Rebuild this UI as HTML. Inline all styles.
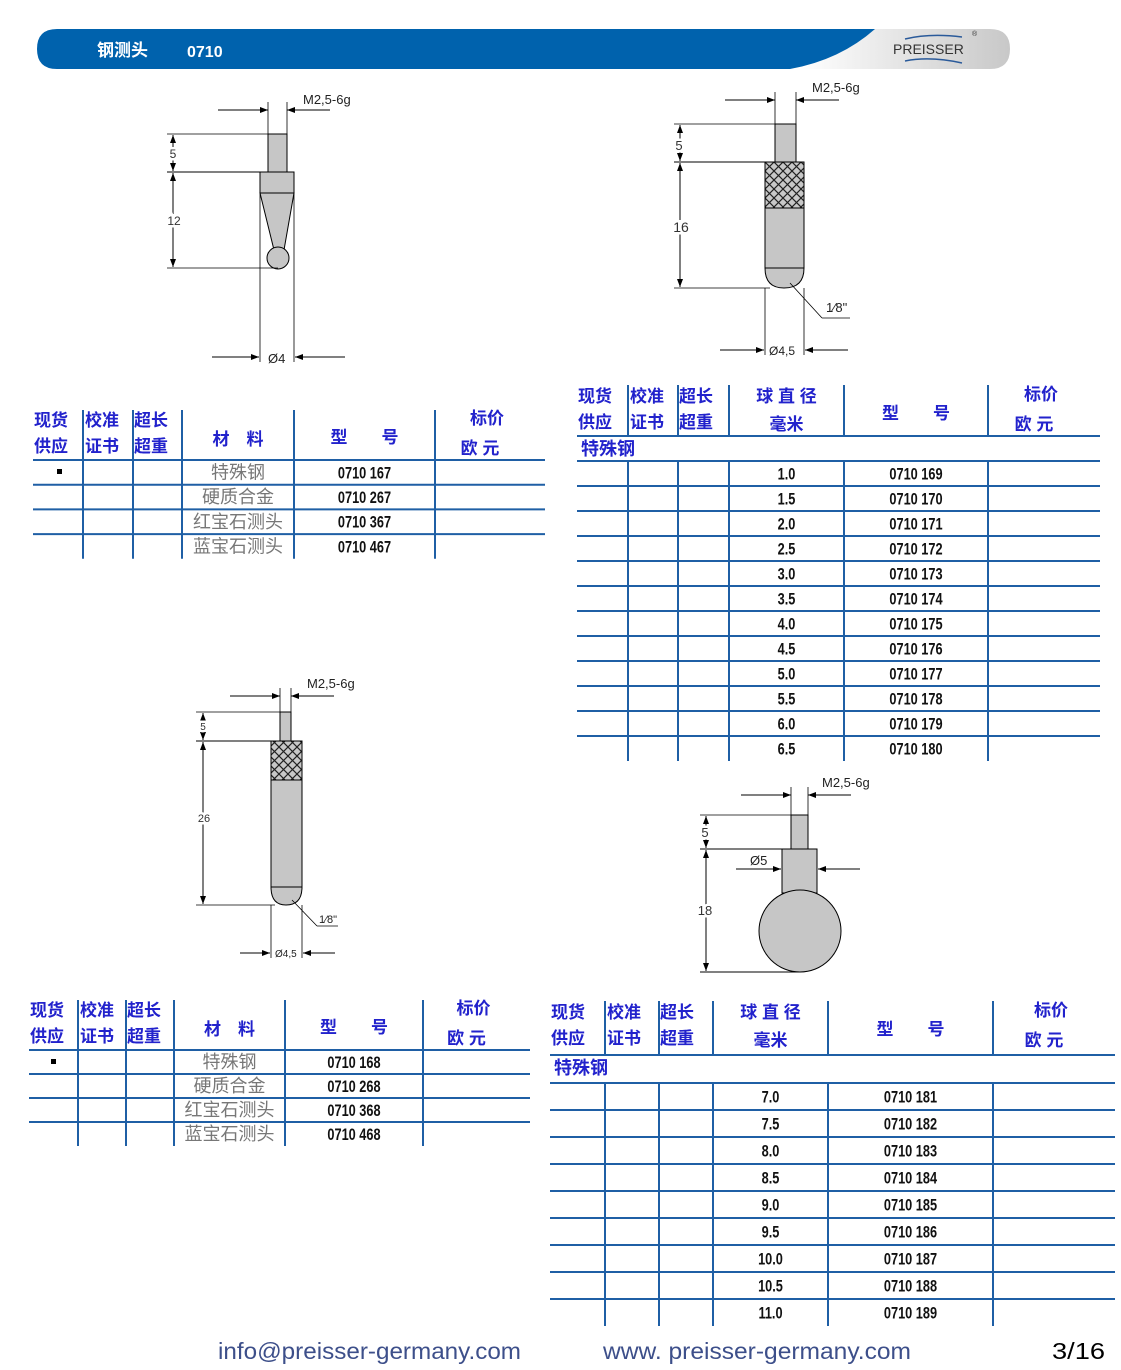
<!DOCTYPE html>
<html><head><meta charset="utf-8"><style>
html,body{margin:0;padding:0;background:#fff;}
svg{display:block;}
</style></head><body>
<svg id="s" width="1121" height="1370" xmlns="http://www.w3.org/2000/svg" font-family="Liberation Sans, 'Noto Sans CJK SC', sans-serif">
<defs>
<linearGradient id="gg" x1="0" x2="1" y1="0" y2="0"><stop offset="0" stop-color="#ffffff"/><stop offset="1" stop-color="#c8c8c8"/></linearGradient>
<pattern id="kn" width="9" height="9" patternUnits="userSpaceOnUse"><rect width="9" height="9" fill="#c8c8c8"/><path d="M0 0L9 9M9 0L0 9" stroke="#222" stroke-width="1.2"/></pattern>
<marker id="ar" markerWidth="8" markerHeight="6" refX="8" refY="3" orient="auto" markerUnits="userSpaceOnUse"><path d="M0 0L8 3L0 6z" fill="#000"/></marker>
</defs>
<!-- header -->
<path d="M870 29 H990 Q1010 29 1010 49 Q1010 69 990 69 H800 Q850 50 870 29Z" fill="url(#gg)"/>
<path d="M57 29 H875 Q840 60 790 69 H57 Q37 69 37 49 Q37 29 57 29Z" fill="#0062ad"/>
<text x="97" y="56" font-size="17" font-weight="bold" fill="#fff">钢测头</text>
<text x="187" y="57" font-size="16" font-weight="bold" fill="#fff">0710</text>
<text x="893" y="54" font-size="14" fill="#333">PREISSER</text>
<path d="M905 39 Q930 33 962 37" stroke="#2a5a9a" stroke-width="1.5" fill="none"/>
<path d="M905 61 Q930 56 962 63" stroke="#2a5a9a" stroke-width="1.5" fill="none"/>
<text x="972" y="36" font-size="7" fill="#333">®</text>
<g id="g"></g>
<!-- footer -->
<text x="218" y="1359" font-size="23" fill="#3d4f8a" textLength="303" lengthAdjust="spacingAndGlyphs">info@preisser-germany.com</text>
<text x="603" y="1359" font-size="23" fill="#3d4f8a" textLength="308" lengthAdjust="spacingAndGlyphs">www. preisser-germany.com</text>
<text x="1052" y="1359" font-size="23" fill="#000" textLength="53" lengthAdjust="spacingAndGlyphs">3/16</text>
</svg>
<script>
var g=document.getElementById('g'),h='';
function L(x1,y1,x2,y2,c,w,m){h+='<line x1="'+x1+'" y1="'+y1+'" x2="'+x2+'" y2="'+y2+'" stroke="'+(c||'#000')+'" stroke-width="'+(w||1)+'"'+(m?' marker-end="url(#ar)"':'')+'/>';}
function T(x,y,s,sz,c,extra){h+='<text x="'+x+'" y="'+y+'" font-size="'+sz+'" fill="'+c+'" '+(extra||'')+'>'+s+'</text>';}
function R(x,y,w,hh,f){h+='<rect x="'+x+'" y="'+y+'" width="'+w+'" height="'+hh+'" fill="'+f+'" stroke="#000" stroke-width="1"/>';}
function LB(x,y,s,sz){h+='<text x="'+x+'" y="'+y+'" font-size="'+sz+'" fill="#333" text-anchor="middle" stroke="#fff" stroke-width="5" paint-order="stroke">'+s+'</text>';}
var G='#c6c6c6';
function topDim(a,b,y,tx,ty){L(a-50,y,a,y,'#000',1,1);L(b+43,y,b,y,'#000',1,1);L(a,y-8,a,y+24,'#000',0.8);L(b,y-8,b,y+24,'#000',0.8);T(tx,ty,'M2,5-6g',13,'#222');}
function vDim(x,ys){for(var i=0;i<ys.length-1;i++){L(x,(ys[i]+ys[i+1])/2,x,ys[i]+1,'#000',1,1);L(x,(ys[i]+ys[i+1])/2,x,ys[i+1]-1,'#000',1,1);}}
// diagram 1
topDim(268,287,110,303,104);
R(268,134,19,38,G);R(260,172,34,21,G);
h+='<path d="M260 193 L294 193 L284 250 L274 250Z" fill="'+G+'" stroke="#000"/>';
h+='<circle cx="278" cy="258" r="11" fill="'+G+'" stroke="#000"/>';
L(167,134,268,134,'#000',0.8);L(167,172,294,172,'#000',1);L(167,268,278,268,'#000',0.8);
vDim(173,[134,172,268]);LB(173,158,'5',12);LB(174,225,'12',12);
L(260,193,260,362,'#000',0.8);L(294,193,294,362,'#000',0.8);
L(212,357,259,357,'#000',1,1);L(345,357,295,357,'#000',1,1);T(268,363,'Ø4',13,'#222');
// diagram 2
topDim(775,796,100,812,92);
R(775,124,21,38,G);
h+='<path d="M765 162 H804 V268 Q804 288 784 288 Q765 288 765 268Z" fill="'+G+'" stroke="#000"/>';
R(765,162,39,46,'url(#kn)');L(765,268,804,268);
L(674,124,796,124,'#000',0.8);L(674,162,804,162,'#000',1);L(674,288,770,288,'#000',0.8);
vDim(680,[124,162,288]);LB(679,150,'5',13);LB(681,232,'16',14);
L(765,288,765,355,'#000',0.8);L(804,288,804,355,'#000',0.8);
L(720,350,764,350,'#000',1,1);L(848,350,805,350,'#000',1,1);T(769,355,'Ø4,5',12,'#222');
L(790,283,822,318,'#000',0.8);L(822,318,850,318,'#000',0.8);T(826,312,'1⁄8"',13,'#222');
// diagram 3
topDim(280,291,696,307,688);
R(280,712,11,29,G);
h+='<path d="M271 741 H302 V887 Q302 905 286 905 Q271 905 271 887Z" fill="'+G+'" stroke="#000"/>';
R(271,741,31,39,'url(#kn)');L(271,887,302,887);
L(196,712,291,712,'#000',0.8);L(196,741,302,741,'#000',1);L(196,905,275,905,'#000',0.8);
vDim(203,[712,741,905]);LB(203,730,'5',10);LB(204,822,'26',11);
L(271,905,271,958,'#000',0.8);L(302,905,302,958,'#000',0.8);
L(240,953,270,953,'#000',1,1);L(335,953,303,953,'#000',1,1);T(275,957,'Ø4,5',10,'#222');
L(292,900,317,926,'#000',0.8);L(317,926,338,926,'#000',0.8);T(319,923,'1⁄8"',11,'#222');
// diagram 4
topDim(791,808,795,822,787);
R(791,815,17,34,G);R(782,849,35,44,G);
h+='<circle cx="800" cy="931" r="41" fill="'+G+'" stroke="#000"/>';
L(700,815,808,815,'#000',0.8);L(700,849,817,849,'#000',1);L(700,972,800,972,'#000',1);
vDim(706,[815,849,972]);LB(705,837,'5',13);LB(705,915,'18',13);
L(736,869,781,869,'#000',1,1);L(860,869,818,869,'#000',1,1);T(750,865,'Ø5',13,'#222');
// tables
var BL='#1f5fa5',TB='#2222cc';
function num(x,y,s,sz){T(x,y,s,sz,'#111','text-anchor="middle" font-weight="bold" transform="translate('+x+' '+y+') scale(0.75 1) translate('+(-x)+' '+(-y)+')"');}
function hdr(cols,y1,y2,five){
 var c=cols,fs=17,a='font-weight="bold"';
 T(c[0]+1,y1,'现货',fs,TB,a);T(c[0]+1,y2,'供应',fs,TB,a);
 T(c[1]+2,y1,'校准',fs,TB,a);T(c[1]+2,y2,'证书',fs,TB,a);
 T(c[2]+1,y1,'超长',fs,TB,a);T(c[2]+1,y2,'超重',fs,TB,a);
 var m=(c[3]+c[4])/2;
 if(five){T(m,y1,'球 直 径',fs,TB,a+' text-anchor="middle"');T(m,y2+2,'毫米',fs,TB,a+' text-anchor="middle"');}
 else T(m,(y1+y2)/2+6,'材　料',fs,TB,a+' text-anchor="middle"');
 m=(c[4]+c[5])/2;T(m,(y1+y2)/2+4,'型　　号',fs,TB,a+' text-anchor="middle"');
 m=(c[5]+c[6])/2;T(m-3,y1-2,'标价',fs,TB,a+' text-anchor="middle"');T(m-10,y2+2,'欧 元',fs,TB,a+' text-anchor="middle"');
}
function tbl1(c,top,hb,rh,codes,star){
 hdr(c,top+16,top+42,0);
 for(var i=1;i<6;i++)L(c[i],top,c[i],hb+rh*4,BL,2);
 for(var i=0;i<4;i++)L(c[0],hb+rh*i,c[6],hb+rh*i,BL,2);
 var mats=['特殊钢','硬质合金','红宝石测头','蓝宝石测头'];
 for(i=0;i<4;i++){var y=hb+rh*i+rh/2+6;T((c[3]+c[4])/2,y,mats[i],18,'#777','text-anchor="middle"');num((c[4]+c[5])/2,y,codes[i],17);}
 h+='<rect x="'+(star-2)+'" y="'+(hb+9)+'" width="5" height="5" fill="#000"/>';
}
tbl1([33,83,133,182,294,435,545],410,460,24.7,['0710 167','0710 267','0710 367','0710 467'],59);
tbl1([29,78,126,174,285,423,530],1000,1050,24,['0710 168','0710 268','0710 368','0710 468'],53);
function tbl2(c,top,hb,sr,rh,rows,start){
 hdr(c,top+17,top+43,1);
 L(c[0],hb,c[6],hb,BL,2);T(c[0]+4,hb+19,'特殊钢',18,TB,'font-weight="bold"');
 for(var i=1;i<6;i++)L(c[i],top,c[i],hb,BL,2);
 var n=rows.length;
 for(i=1;i<6;i++)L(c[i],sr,c[i],sr+rh*n,BL,2);
 for(i=0;i<n;i++){L(c[0],sr+rh*i,c[6],sr+rh*i,BL,2);var y=sr+rh*i+rh/2+6;num((c[3]+c[4])/2,y,rows[i],17);num((c[4]+c[5])/2,y,'0710 '+(start+i),17);}
}
tbl2([577,628,678,729,844,988,1100],385,436,461,25,['1.0','1.5','2.0','2.5','3.0','3.5','4.0','4.5','5.0','5.5','6.0','6.5'],169);
tbl2([550,605,659,713,828,993,1115],1001,1055,1083,27,['7.0','7.5','8.0','8.5','9.0','9.5','10.0','10.5','11.0'],181);
g.innerHTML=h;
</script>
</body></html>
